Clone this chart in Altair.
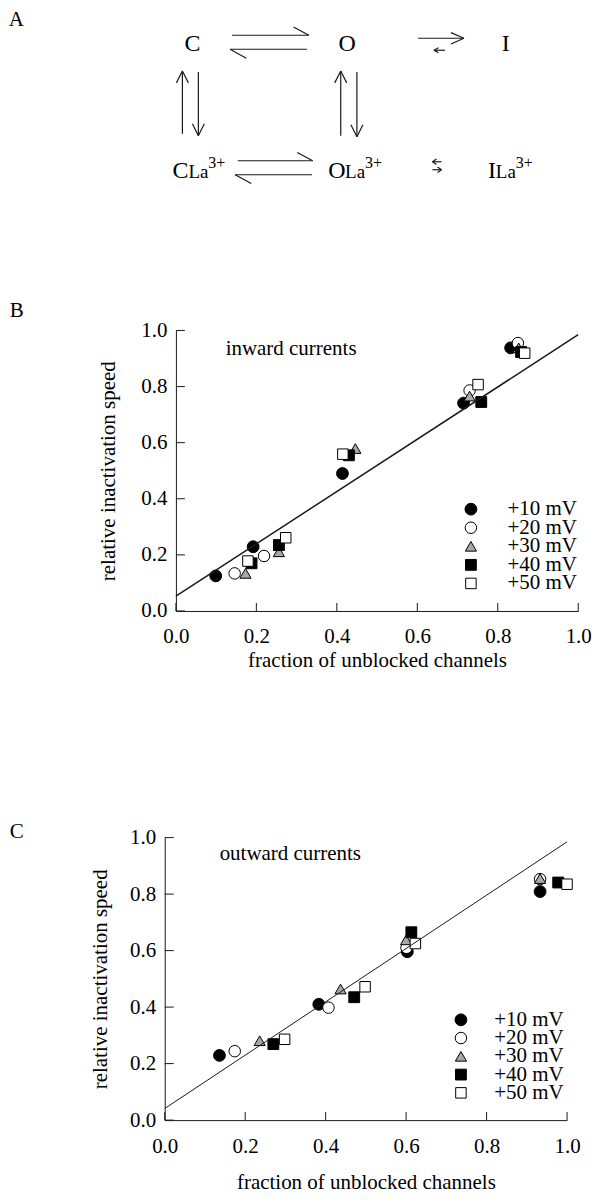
import altair as alt
import pandas as pd

FONT = "Liberation Serif"
INK = "#1a1a1a"

# ---------------- data ----------------
series = ["+10 mV", "+20 mV", "+30 mV", "+40 mV", "+50 mV"]
marker_shapes = ["circle", "circle", "triangle-up", "square", "square"]
marker_fills = ["#000000", "#ffffff", "#a8a8a8", "#000000", "#ffffff"]
marker_sizes = [140, 110, 100, 95, 95]
tick_values = [0.0, 0.2, 0.4, 0.6, 0.8, 1.0]

# Panel B: inward currents
b_x_10 = [0.099, 0.192, 0.414, 0.715, 0.832]
b_y_10 = [0.125, 0.229, 0.490, 0.741, 0.938]
b_x_20 = [0.146, 0.219, 0.730, 0.850]
b_y_20 = [0.134, 0.196, 0.786, 0.955]
b_x_30 = [0.173, 0.256, 0.446, 0.730, 0.852]
b_y_30 = [0.134, 0.211, 0.579, 0.766, 0.938]
b_x_40 = [0.188, 0.256, 0.430, 0.759, 0.858]
b_y_40 = [0.170, 0.235, 0.555, 0.745, 0.923]
b_x_50 = [0.179, 0.273, 0.415, 0.751, 0.867]
b_y_50 = [0.178, 0.261, 0.559, 0.807, 0.919]
b_fit_x = [0.0, 1.0]
b_fit_y = [0.053, 0.985]

# Panel C: outward currents
c_x_10 = [0.136, 0.383, 0.603, 0.933]
c_y_10 = [0.229, 0.410, 0.596, 0.809]
c_x_20 = [0.174, 0.407, 0.601, 0.933]
c_y_20 = [0.244, 0.398, 0.610, 0.853]
c_x_30 = [0.236, 0.437, 0.600, 0.933]
c_y_30 = [0.281, 0.464, 0.638, 0.855]
c_x_40 = [0.270, 0.471, 0.613, 0.978]
c_y_40 = [0.269, 0.435, 0.665, 0.841]
c_x_50 = [0.298, 0.498, 0.623, 1.000]
c_y_50 = [0.286, 0.472, 0.625, 0.835]
c_fit_x = [0.0, 1.0]
c_fit_y = [0.041, 0.985]

# Panel A: kinetic scheme (diagram layout units = page pixels)
row0_labels = ["C", "O", "I"]
row0_x = [191, 346, 505]
row0_base = [50, 50, 50]
row1_big = ["C", "O", "I"]
row1_big_x = [171, 327, 487]
row1_la_x = [187, 344, 495]
row1_sup_x = [207, 364, 515]
row1_base = 177
row1_sup_base = 167
# arrow segments: (x1, y1, x2, y2)
scheme_segments = [
    # C <-> O
    (230.8, 34.3, 307.7, 34.3), (307.7, 34.3, 292.3, 26.0),
    (305.8, 48.3, 228.8, 48.3), (228.8, 48.3, 245.0, 57.3),
    # O -> I (fast) and back (slow)
    (417.0, 37.3, 463.0, 37.3), (463.0, 37.3, 450.0, 31.7), (463.0, 37.3, 450.0, 43.0),
    (444.0, 49.3, 433.0, 49.3), (433.0, 49.3, 437.5, 46.8), (433.0, 49.3, 437.5, 51.8),
    # C <-> CLa
    (181.0, 133.0, 181.0, 70.0), (181.0, 70.0, 175.0, 82.0), (181.0, 70.0, 187.0, 82.0),
    (197.0, 71.0, 197.0, 135.0), (197.0, 135.0, 191.0, 123.0), (197.0, 135.0, 203.0, 123.0),
    # O <-> OLa
    (339.6, 135.0, 339.6, 70.0), (339.6, 70.0, 333.6, 82.0), (339.6, 70.0, 345.6, 82.0),
    (355.8, 71.0, 355.8, 136.0), (355.8, 136.0, 349.8, 124.0), (355.8, 136.0, 361.8, 124.0),
    # CLa <-> OLa
    (236.5, 160.0, 311.5, 160.0), (311.5, 160.0, 296.0, 151.7),
    (310.8, 174.0, 233.8, 174.0), (233.8, 174.0, 250.0, 182.7),
    # OLa <-> ILa (tiny)
    (440.5, 161.0, 431.5, 161.0), (431.5, 161.0, 435.5, 158.3), (431.5, 161.0, 435.5, 163.7),
    (431.5, 169.0, 440.5, 169.0), (440.5, 169.0, 436.5, 166.3), (440.5, 169.0, 436.5, 171.7),
]

ORIGIN = 163.3  # page x of the shared plot origin
LABEL_X = -155.3


def one(text):
    return pd.DataFrame({"t": [text]})


# ---------------- panel A ----------------
A_W, A_H = 403, 232
A_TOP = 8
ax = alt.Scale(domain=[ORIGIN, ORIGIN + A_W], nice=False, zero=False)
ay = alt.Scale(domain=[A_TOP, A_TOP + A_H], nice=False, zero=False, reverse=True)

seg_df = pd.DataFrame(scheme_segments, columns=["x1", "y1", "x2", "y2"])
segs = alt.Chart(seg_df).mark_rule(color=INK, strokeWidth=1.2).encode(
    x=alt.X("x1:Q", scale=ax, axis=None),
    y=alt.Y("y1:Q", scale=ay, axis=None),
    x2="x2:Q",
    y2="y2:Q",
)


def scheme_text(labels, xs, ys, size, align):
    return alt.Chart(pd.DataFrame({"t": labels, "x": xs, "y": ys})).mark_text(
        font=FONT, fontSize=size, align=align, baseline="alphabetic", color="black"
    ).encode(x=alt.X("x:Q", scale=ax, axis=None), y=alt.Y("y:Q", scale=ay, axis=None), text="t:N")


r0 = scheme_text(row0_labels, row0_x, row0_base, 24, "center")
r1a = scheme_text(row1_big, row1_big_x, [row1_base] * 3, 24, "left")
r1b = scheme_text(["La"] * 3, row1_la_x, [row1_base] * 3, 19, "left")
r1c = scheme_text(["3+"] * 3, row1_sup_x, [row1_sup_base] * 3, 16, "left")
a_label = alt.Chart(one("A")).mark_text(
    font=FONT, fontSize=21, align="left", baseline="alphabetic", color="black"
).encode(x=alt.value(LABEL_X - 1), y=alt.value(17), text="t:N")

panel_a = alt.layer(segs, r0, r1a, r1b, r1c, a_label).properties(width=A_W, height=A_H)


# ---------------- panels B and C ----------------
def make_df(xs_lists, ys_lists):
    rows = []
    for k, (s, xs, ys) in enumerate(zip(series, xs_lists, ys_lists)):
        for xv, yv in zip(xs, ys):
            rows.append({"fraction": xv, "speed": yv, "potential": s, "k": k})
    return pd.DataFrame(rows)


def panel(df, fit_x, fit_y, letter, note, lay):
    W, H = lay["w"], lay["h"]
    x0 = lay["x0"]  # pixel where x = 0 (y-axis position)
    xsc = alt.Scale(domain=[0, 1], nice=False, zero=False, range=[x0, x0 + 403])
    ysc = alt.Scale(domain=[0, 1], nice=False, zero=False)
    common = dict(
        grid=False, ticks=False, tickSize=0, domainColor=INK, domainWidth=1,
        labelFont=FONT, labelFontSize=21, labelColor="black", labelFlush=False,
        labelOverlap=False, titleFont=FONT, titleFontSize=21,
        titleFontWeight="normal", titleColor="black", values=tick_values, format=".1f",
    )
    x_axis = alt.Axis(title="fraction of unblocked channels", labelPadding=15,
                      titlePadding=lay["xtp"], **common)
    y_axis = alt.Axis(title="relative inactivation speed", labelPadding=9,
                      titlePadding=lay["ytp"], offset=-x0, **common)
    shp = alt.Scale(domain=series, range=marker_shapes)
    fil = alt.Scale(domain=series, range=marker_fills)
    siz = alt.Scale(domain=series, range=marker_sizes)
    stk = alt.Scale(domain=series, range=["black"] * 5)

    pts = alt.Chart(df).mark_point(filled=True, strokeWidth=1, opacity=1).encode(
        x=alt.X("fraction:Q", scale=xsc, axis=x_axis),
        y=alt.Y("speed:Q", scale=ysc, axis=y_axis),
        shape=alt.Shape("potential:N", scale=shp, legend=None),
        fill=alt.Fill("potential:N", scale=fil, legend=None),
        size=alt.Size("potential:N", scale=siz, legend=None),
        stroke=alt.Stroke("potential:N", scale=stk, legend=None),
        order=alt.Order("k:Q"),
    )
    fit = alt.Chart(pd.DataFrame({"fraction": fit_x, "speed": fit_y})).mark_line(
        color=INK, strokeWidth=lay["lw"]
    ).encode(
        x=alt.X("fraction:Q", scale=xsc, axis=x_axis),
        y=alt.Y("speed:Q", scale=ysc, axis=y_axis),
    )
    tk = pd.DataFrame({"speed": tick_values, "fraction": tick_values})
    yt = alt.Chart(tk).mark_rule(color=INK, strokeWidth=1).encode(
        y=alt.Y("speed:Q", scale=ysc, axis=y_axis), x=alt.value(x0), x2=alt.value(x0 + 9)
    )
    xt = alt.Chart(tk).mark_rule(color=INK, strokeWidth=1).encode(
        x=alt.X("fraction:Q", scale=xsc, axis=x_axis), y=alt.value(H), y2=alt.value(H - 8)
    )
    data_layers = alt.layer(pts, fit, yt, xt)

    # legend drawn with the same shape/fill/size scales
    leg_df = pd.DataFrame({"potential": series})
    leg_y = alt.Y("potential:N", axis=None,
                  scale=alt.Scale(type="point", domain=series, padding=0,
                                  range=[lay["ly"], lay["ly"] + 4 * lay["lstep"]]))
    leg_sym = alt.Chart(leg_df).mark_point(filled=True, strokeWidth=1, opacity=1).encode(
        y=leg_y, x=alt.value(lay["lsx"]),
        shape=alt.Shape("potential:N", scale=shp, legend=None),
        fill=alt.Fill("potential:N", scale=fil, legend=None),
        size=alt.Size("potential:N", scale=siz, legend=None),
        stroke=alt.Stroke("potential:N", scale=stk, legend=None),
    )
    leg_txt = alt.Chart(leg_df).mark_text(
        font=FONT, fontSize=21, align="left", baseline="middle", color="black"
    ).encode(y=leg_y, x=alt.value(lay["ltx"]), text="potential:N")

    lab = alt.Chart(one(letter)).mark_text(
        font=FONT, fontSize=21, align="left", baseline="alphabetic", color="black"
    ).encode(x=alt.value(LABEL_X), y=alt.value(lay["lab_y"]), text="t:N")
    nt = alt.Chart(one(note)).mark_text(
        font=FONT, fontSize=21, align="left", baseline="alphabetic", color="black"
    ).encode(x=alt.value(lay["note_x"]), y=alt.value(lay["note_y"]), text="t:N")
    return alt.layer(data_layers, leg_sym, leg_txt, lab, nt).resolve_scale(
        y="independent"
    ).properties(width=W, height=H)


df_b = make_df([b_x_10, b_x_20, b_x_30, b_x_40, b_x_50], [b_y_10, b_y_20, b_y_30, b_y_40, b_y_50])
df_c = make_df([c_x_10, c_x_20, c_x_30, c_x_40, c_x_50], [c_y_10, c_y_20, c_y_30, c_y_40, c_y_50])

panel_b = panel(df_b, b_fit_x, b_fit_y, "B", "inward currents", dict(
    w=414, h=281, x0=11.2, xtp=3, ytp=22, lw=1.5,
    ly=179, lstep=18.6, lsx=306.7, ltx=343.4,
    lab_y=-13, note_x=61, note_y=25))
panel_c = panel(df_c, c_fit_x, c_fit_y, "C", "outward currents", dict(
    w=414, h=283, x0=0, xtp=16, ytp=19, lw=1.0,
    ly=182.5, lstep=18.3, lsx=296.7, ltx=330,
    lab_y=0, note_x=55, note_y=22))

bc = alt.vconcat(panel_b, panel_c, spacing=150).resolve_scale(
    x="independent", y="independent", shape="independent", fill="independent",
    size="independent", stroke="independent"
)

chart = alt.vconcat(panel_a, bc, spacing=60).resolve_scale(
    x="independent", y="independent"
).properties(padding=0, background="white").configure_view(stroke=None)

chart.save("out.html", embed_options={"renderer": "svg", "actions": False})
